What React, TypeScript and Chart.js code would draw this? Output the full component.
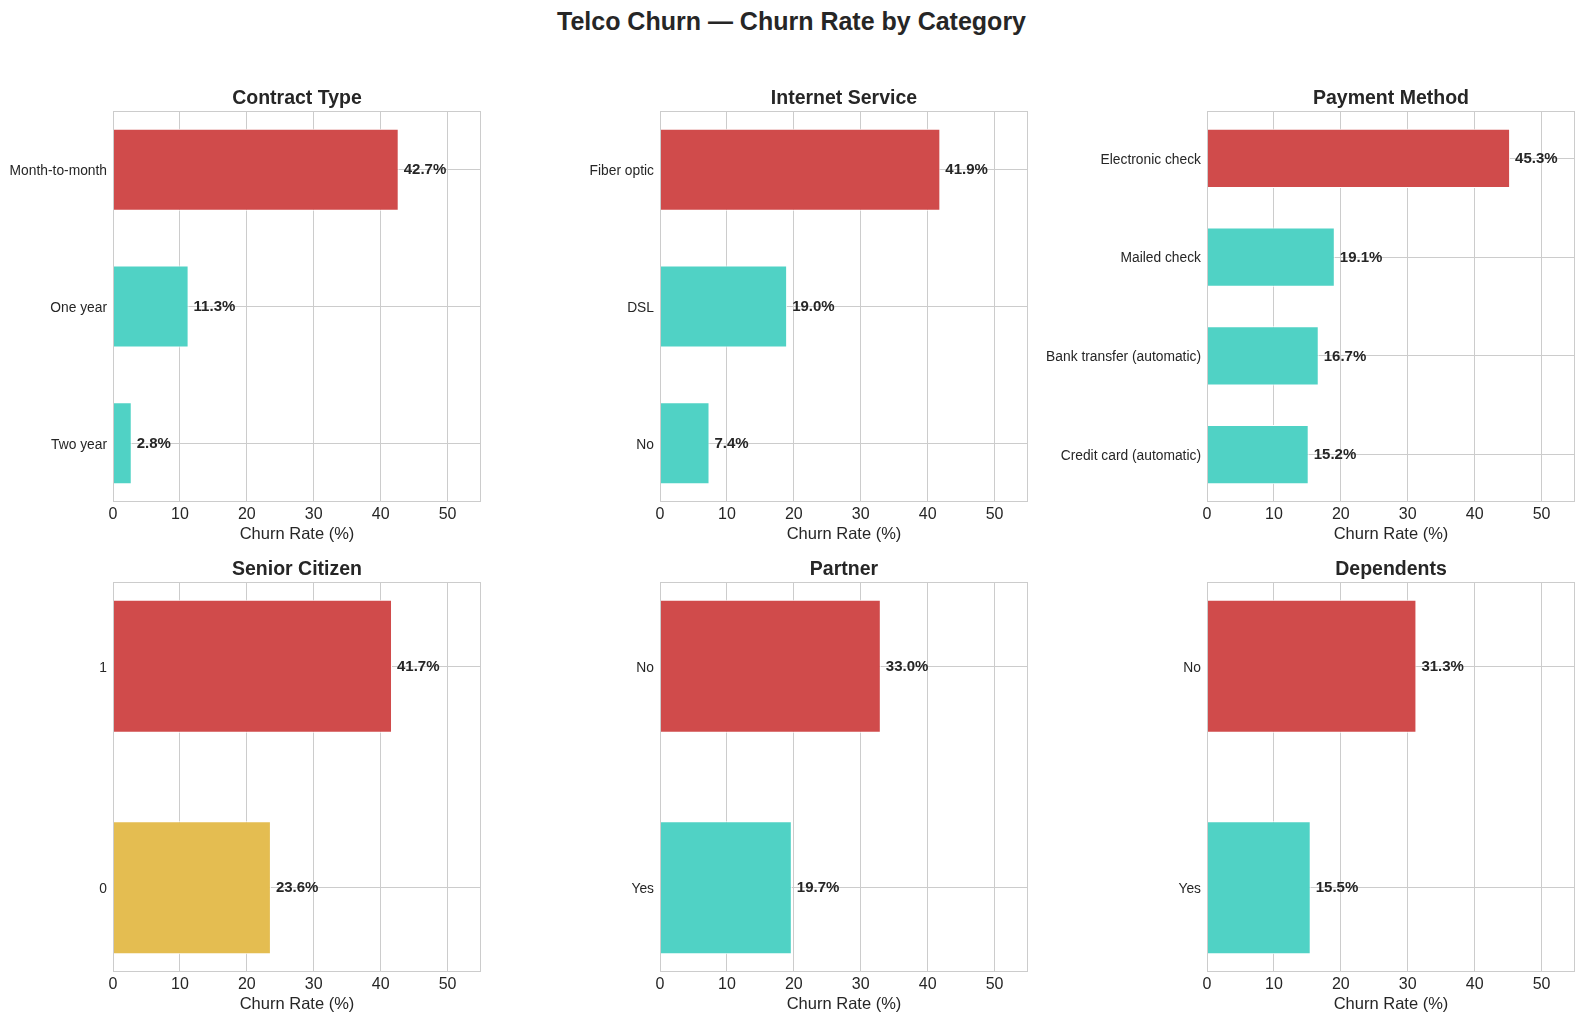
import React, { useEffect, useRef } from "react";
import { Chart, registerables } from "chart.js";

Chart.register(...registerables);

// ---------- data ----------
const contractLabels = ["Month-to-month", "One year", "Two year"];
const contractValues = [42.7, 11.3, 2.8];

const internetLabels = ["Fiber optic", "DSL", "No"];
const internetValues = [41.9, 19.0, 7.4];

const paymentLabels = ["Electronic check", "Mailed check", "Bank transfer (automatic)", "Credit card (automatic)"];
const paymentValues = [45.3, 19.1, 16.7, 15.2];

const seniorLabels = ["1", "0"];
const seniorValues = [41.7, 23.6];

const partnerLabels = ["No", "Yes"];
const partnerValues = [33.0, 19.7];

const dependentsLabels = ["No", "Yes"];
const dependentsValues = [31.3, 15.5];

const xTicks = [0, 10, 20, 30, 40, 50];
const xMax = 55;

const RED = "#d04b4b";
const TEAL = "#50d2c5";
const YELLOW = "#e4bd51";

const contractColors = [RED, TEAL, TEAL];
const internetColors = [RED, TEAL, TEAL];
const paymentColors = [RED, TEAL, TEAL, TEAL];
const seniorColors = [RED, YELLOW];
const partnerColors = [RED, TEAL];
const dependentsColors = [RED, TEAL];

const SUPTITLE = "Telco Churn \u2014 Churn Rate by Category";
const XLABEL = "Churn Rate (%)";

// ---------- layout ----------
const FONT = "'Liberation Sans', Arial, Helvetica, sans-serif";
const TEXT = "#262626";
const GRID = "#cccccc";
const COL_LEFT = [113, 660, 1207];
const ROW_TOP = [111, 582];
const PLOT_W = 368;
const PLOT_H = [391, 390];
const PAD_T = 40;
const PAD_R = 8;
const X_AXIS_H = 50;

type Panel = {
  title: string;
  labels: string[];
  values: number[];
  colors: string[];
  col: number;
  row: number;
  axisW: number;
};

const panels: Panel[] = [
  { title: "Contract Type", labels: contractLabels, values: contractValues, colors: contractColors, col: 0, row: 0, axisW: 113 },
  { title: "Internet Service", labels: internetLabels, values: internetValues, colors: internetColors, col: 1, row: 0, axisW: 120 },
  { title: "Payment Method", labels: paymentLabels, values: paymentValues, colors: paymentColors, col: 2, row: 0, axisW: 180 },
  { title: "Senior Citizen", labels: seniorLabels, values: seniorValues, colors: seniorColors, col: 0, row: 1, axisW: 113 },
  { title: "Partner", labels: partnerLabels, values: partnerValues, colors: partnerColors, col: 1, row: 1, axisW: 120 },
  { title: "Dependents", labels: dependentsLabels, values: dependentsValues, colors: dependentsColors, col: 2, row: 1, axisW: 180 },
];

function PanelChart({ p }: { p: Panel }) {
  const ref = useRef<HTMLCanvasElement | null>(null);
  const plotH = PLOT_H[p.row];
  const width = p.axisW + PLOT_W + PAD_R;
  const height = PAD_T + plotH + X_AXIS_H;
  const left = COL_LEFT[p.col] - p.axisW;
  const top = ROW_TOP[p.row] - PAD_T;

  useEffect(() => {
    if (!ref.current) return;
    const n = p.labels.length;
    const margin = 0.3 + 0.05 * (n - 1 + 0.6);
    const decor = {
      id: "decor",
      afterDatasetsDraw(chart: any) {
        const { ctx, chartArea } = chart;
        const { left: l, right: r, top: t, bottom: b } = chartArea;
        ctx.save();
        // spines
        ctx.strokeStyle = GRID;
        ctx.lineWidth = 1;
        ctx.strokeRect(Math.round(l) + 0.5, Math.round(t) + 0.5, Math.round(r - l) - 1, Math.round(b - t) - 1);
        // value labels
        const meta = chart.getDatasetMeta(0);
        ctx.fillStyle = TEXT;
        ctx.font = `bold 15px ${FONT}`;
        ctx.textAlign = "left";
        ctx.textBaseline = "middle";
        meta.data.forEach((el: any, i: number) => {
          ctx.fillText(p.values[i].toFixed(1) + "%", el.x + 5, el.y + 0.5);
        });
        // title
        ctx.textAlign = "center";
        ctx.font = `bold 19.5px ${FONT}`;
        ctx.fillText(p.title, (l + r) / 2, t - 12.5);
        // x label
        ctx.font = `16.5px ${FONT}`;
        ctx.fillText(XLABEL, (l + r) / 2, b + 32);
        ctx.restore();
      },
    };

    const chart = new Chart(ref.current, {
      type: "bar",
      data: {
        datasets: [
          {
            data: p.values.map((v, i) => ({ x: v, y: i })),
            backgroundColor: p.colors,
            borderColor: "#ffffff",
            borderWidth: 1,
            barPercentage: 0.6,
            categoryPercentage: 1,
          } as any,
        ],
      },
      options: {
        indexAxis: "y",
        responsive: false,
        animation: false,
        layout: { padding: { top: PAD_T, right: PAD_R, left: 0, bottom: 0 } },
        plugins: { legend: { display: false }, tooltip: { enabled: false } },
        scales: {
          x: {
            type: "linear",
            position: "bottom",
            min: 0,
            max: xMax,
            offset: false,
            afterBuildTicks: (s: any) => {
              s.ticks = xTicks.map((v) => ({ value: v }));
            },
            ticks: {
              color: TEXT,
              font: { family: FONT, size: 16 },
              padding: 3,
              maxRotation: 0,
              callback: (v: any) => String(v),
            },
            grid: { color: GRID, lineWidth: 1, drawTicks: false, offset: false },
            border: { display: false },
            afterFit: (s: any) => {
              s.height = X_AXIS_H;
            },
          },
          y: {
            type: "linear",
            reverse: true,
            offset: false,
            min: -margin,
            max: n - 1 + margin,
            afterBuildTicks: (s: any) => {
              s.ticks = p.labels.map((_, i) => ({ value: i }));
            },
            ticks: {
              color: TEXT,
              font: { family: FONT, size: 13.8 },
              padding: 6,
              labelOffset: 1.5,
              autoSkip: false,
              callback: (v: any) => p.labels[v as number] ?? "",
            },
            grid: { color: GRID, lineWidth: 1, drawTicks: false, offset: false },
            border: { display: false },
            afterFit: (s: any) => {
              s.width = p.axisW;
            },
          },
        },
      } as any,
      plugins: [decor],
    });
    return () => chart.destroy();
  }, [p]);

  return (
    <canvas
      ref={ref}
      width={width}
      height={height}
      style={{ position: "absolute", left, top, width, height }}
    />
  );
}

export default function App() {
  useEffect(() => {
    document.body.style.margin = "0";
    document.body.style.overflow = "hidden";
  }, []);
  return (
    <div
      style={{
        position: "absolute",
        left: 0,
        top: 0,
        width: 1583,
        height: 1022,
        background: "#ffffff",
        overflow: "hidden",
      }}
    >
      <div
        style={{
          position: "absolute",
          left: 0,
          top: 6,
          width: 1583,
          textAlign: "center",
          fontFamily: FONT,
          fontWeight: "bold",
          fontSize: 25,
          lineHeight: "30px",
          color: TEXT,
        }}
      >
        {SUPTITLE}
      </div>
      {panels.map((p) => (
        <PanelChart key={p.title} p={p} />
      ))}
    </div>
  );
}
